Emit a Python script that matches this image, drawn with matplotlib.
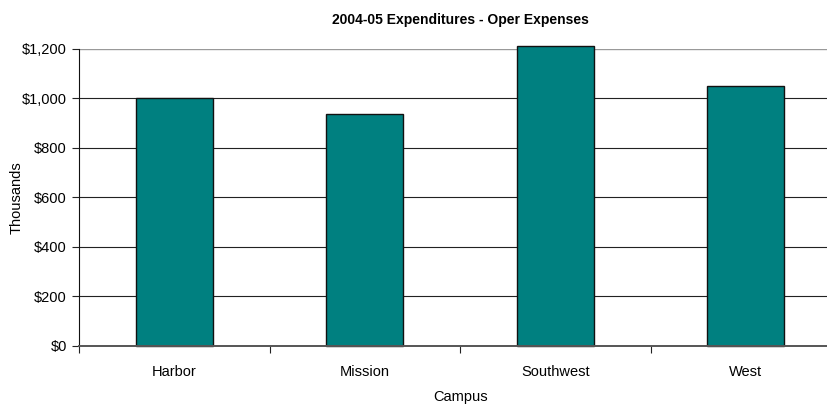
import matplotlib
matplotlib.use("Agg")
import matplotlib.pyplot as plt
import numpy as np

campuses = ["Harbor", "Mission", "Southwest", "West"]
values = [1000, 936, 1213, 1049]
yticks = [0, 200, 400, 600, 800, 1000, 1200]
ytick_labels = ["$0", "$200", "$400", "$600", "$800", "$1,000", "$1,200"]

plt.rcParams['font.family'] = ['Liberation Sans', 'DejaVu Sans']

W, H = 828, 404
fig = plt.figure(figsize=(W/100, H/100), dpi=100)
left, right, bottom, top = 79.3, 841.0, 345.7, 49.0
ax = fig.add_axes([left/W, 1 - bottom/H, (right-left)/W, (bottom-top)/H])

x = np.arange(len(campuses))
ax.bar(x, values, width=0.404, color="#008080", edgecolor="#111111",
       linewidth=1.0, zorder=3, clip_on=False)
ax.set_xlim(-0.5, len(campuses) - 0.5)
ax.set_ylim(0, 1200)

ax.set_yticks(yticks)
ax.set_yticklabels(ytick_labels, fontsize=10.5)
for yv in yticks[1:-1]:
    ax.axhline(yv, color="#222222", linewidth=0.8, zorder=1)
ax.axhline(1200, color="#999999", linewidth=1.0, zorder=1)

ax.set_xticks(x)
ax.set_xticklabels(campuses, fontsize=10.5)
ax.tick_params(axis='x', length=0, pad=14)
ax.set_xticks(np.arange(len(campuses) + 1) - 0.5, minor=True)
ax.tick_params(axis='x', which='minor', length=5, width=0.8, color="#222222", direction='out')
ax.tick_params(axis='y', length=5, width=0.8, color="#222222", direction='out', pad=4)

for s in ["top", "right"]:
    ax.spines[s].set_visible(False)
ax.spines["left"].set_color("#111111")
ax.spines["left"].set_linewidth(0.8)
ax.spines["bottom"].set_color("#555555")
ax.spines["bottom"].set_linewidth(1.4)
ax.spines["bottom"].set_zorder(4)

ax.set_xlabel("Campus", fontsize=10.5, labelpad=8)
ax.set_ylabel("Thousands", fontsize=10.5, labelpad=-1)
ax.set_title("2004-05 Expenditures - Oper Expenses", fontsize=10, fontweight='bold', pad=18)

fig.savefig("out.png", dpi=100)
